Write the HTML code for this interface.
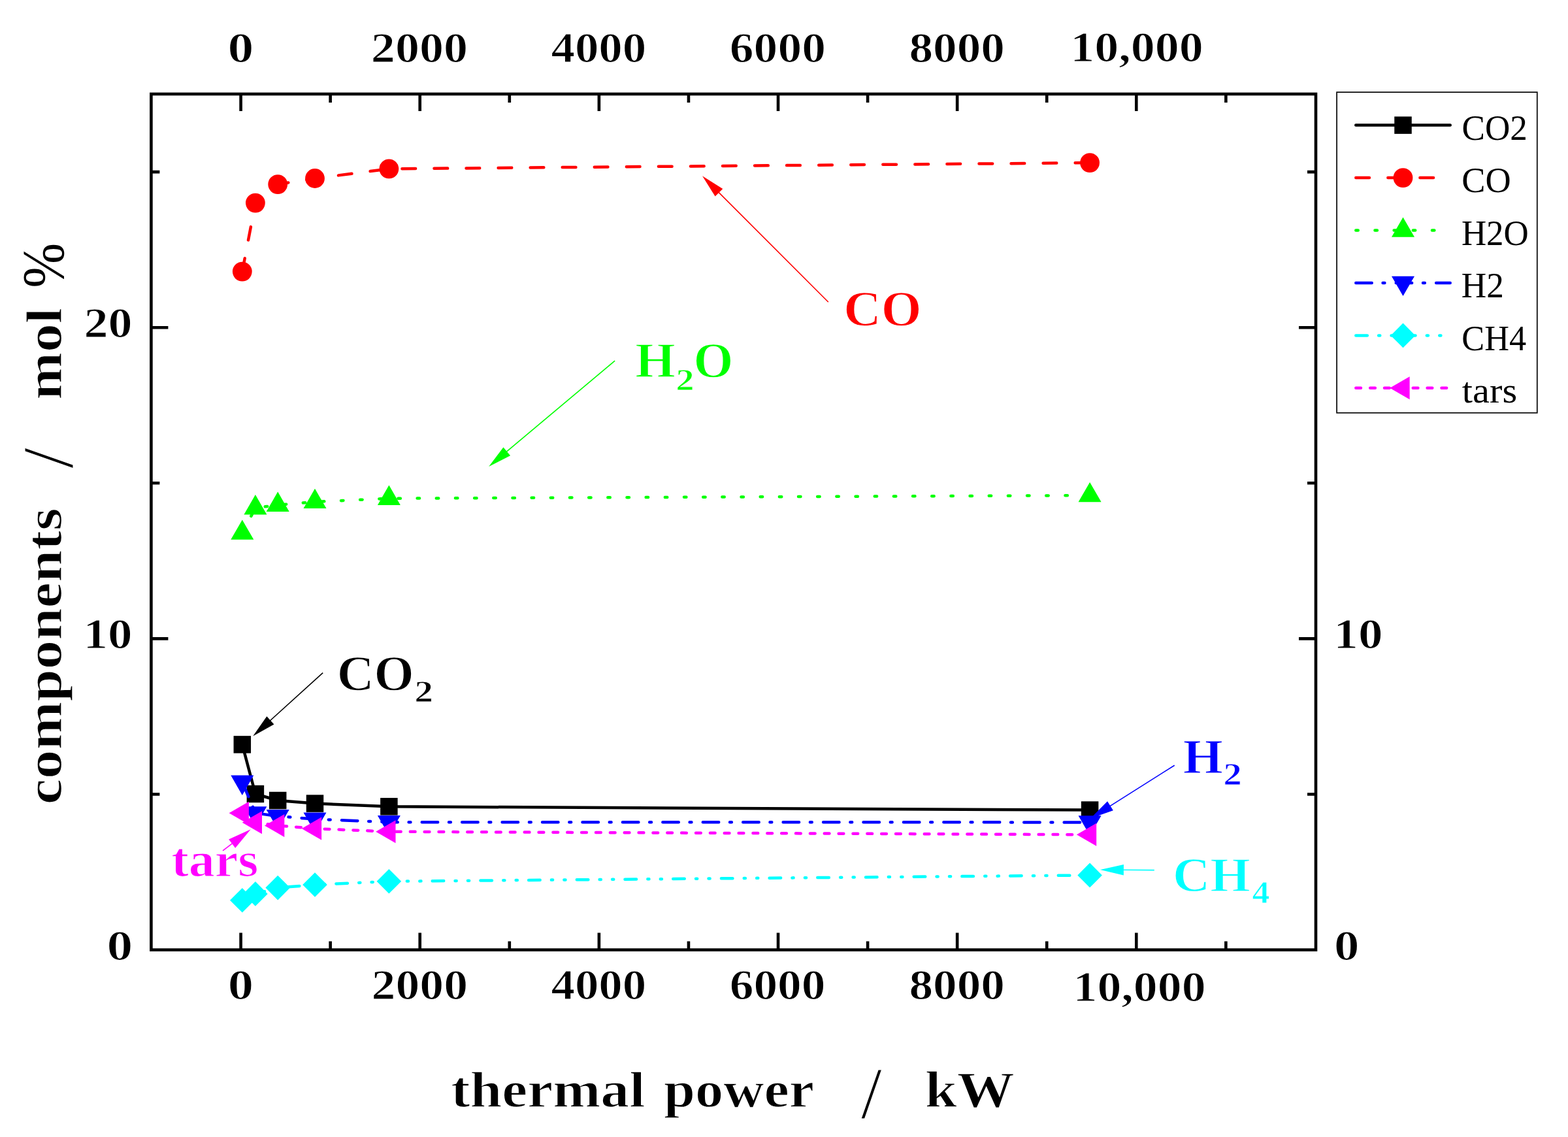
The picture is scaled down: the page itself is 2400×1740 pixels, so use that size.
<!DOCTYPE html>
<html><head><meta charset="utf-8"><title>components vs thermal power</title>
<style>html,body{margin:0;padding:0;background:#fff;}svg{display:block;}</style></head>
<body><svg width="2400" height="1740" viewBox="0 0 2400 1740">
<rect x="0" y="0" width="2400" height="1740" fill="#fff"/>
<g stroke="#000" stroke-width="4.6" fill="none">
<rect x="231.4" y="143.9" width="1782.6" height="1309.7" stroke-linejoin="miter"/>
<path d="M368.60 1453.60V1427.60M368.60 143.90V169.90M505.67 1453.60V1440.60M505.67 143.90V156.90M642.74 1453.60V1427.60M642.74 143.90V169.90M779.81 1453.60V1440.60M779.81 143.90V156.90M916.88 1453.60V1427.60M916.88 143.90V169.90M1053.95 1453.60V1440.60M1053.95 143.90V156.90M1191.02 1453.60V1427.60M1191.02 143.90V169.90M1328.09 1453.60V1440.60M1328.09 143.90V156.90M1465.16 1453.60V1427.60M1465.16 143.90V169.90M1602.23 1453.60V1440.60M1602.23 143.90V156.90M1739.30 1453.60V1427.60M1739.30 143.90V169.90M1876.37 1453.60V1440.60M1876.37 143.90V156.90M231.40 1215.50H244.40M2014.00 1215.50H2001.00M231.40 977.40H257.40M2014.00 977.40H1988.00M231.40 739.30H244.40M2014.00 739.30H2001.00M231.40 501.20H257.40M2014.00 501.20H1988.00M231.40 263.10H244.40M2014.00 263.10H2001.00"/>
</g>
<g font-family="Liberation Serif, serif">
<text transform="translate(348.50,95.21) scale(1.2086,1)" font-size="65.95" font-weight="bold" fill="#000" stroke="#fff" stroke-width="1.10">0</text>
<text transform="translate(567.87,95.21) scale(1.1241,1)" font-size="65.95" font-weight="bold" fill="#000" stroke="#fff" stroke-width="1.10">2000</text>
<text transform="translate(843.39,95.21) scale(1.1068,1)" font-size="65.95" font-weight="bold" fill="#000" stroke="#fff" stroke-width="1.10">4000</text>
<text transform="translate(1116.87,95.21) scale(1.1147,1)" font-size="65.95" font-weight="bold" fill="#000" stroke="#fff" stroke-width="1.10">6000</text>
<text transform="translate(1391.45,95.21) scale(1.1110,1)" font-size="65.95" font-weight="bold" fill="#000" stroke="#fff" stroke-width="1.10">8000</text>
<text transform="translate(1638.15,93.69) scale(1.1280,1)" font-size="65.63" font-weight="bold" fill="#000" stroke="#fff" stroke-width="1.10">10,000</text>
<text transform="translate(348.84,1528.81) scale(1.2021,1)" font-size="65.49" font-weight="bold" fill="#000" stroke="#fff" stroke-width="1.09">0</text>
<text transform="translate(568.59,1528.81) scale(1.1263,1)" font-size="65.49" font-weight="bold" fill="#000" stroke="#fff" stroke-width="1.09">2000</text>
<text transform="translate(843.39,1528.81) scale(1.1145,1)" font-size="65.49" font-weight="bold" fill="#000" stroke="#fff" stroke-width="1.09">4000</text>
<text transform="translate(1116.67,1528.81) scale(1.1217,1)" font-size="65.49" font-weight="bold" fill="#000" stroke="#fff" stroke-width="1.09">6000</text>
<text transform="translate(1391.45,1528.81) scale(1.1187,1)" font-size="65.49" font-weight="bold" fill="#000" stroke="#fff" stroke-width="1.09">8000</text>
<text transform="translate(1642.47,1531.59) scale(1.1257,1)" font-size="65.63" font-weight="bold" fill="#000" stroke="#fff" stroke-width="1.10">10,000</text>
<text transform="translate(163.61,1469.01) scale(1.2105,1)" font-size="65.64" font-weight="bold" fill="#000" stroke="#fff" stroke-width="1.10">0</text>
<text transform="translate(127.56,991.81) scale(1.1415,1)" font-size="65.80" font-weight="bold" fill="#000" stroke="#fff" stroke-width="1.10">10</text>
<text transform="translate(128.57,515.51) scale(1.1359,1)" font-size="65.19" font-weight="bold" fill="#000" stroke="#fff" stroke-width="1.09">20</text>
<text transform="translate(2042.12,1468.51) scale(1.1841,1)" font-size="65.04" font-weight="bold" fill="#000" stroke="#fff" stroke-width="1.09">0</text>
<text transform="translate(2041.35,991.81) scale(1.1433,1)" font-size="65.80" font-weight="bold" fill="#000" stroke="#fff" stroke-width="1.10">10</text>
<text transform="translate(690.25,1694.30) scale(1.1270,1)" font-size="77.89" font-weight="bold" fill="#000" stroke="#fff" stroke-width="1.30">thermal</text>
<text transform="translate(1015.98,1694.30) scale(1.1086,1)" font-size="77.89" font-weight="bold" fill="#000" stroke="#fff" stroke-width="1.30">power</text>
<text transform="translate(1318.00,1711.21) scale(1.0199,1)" font-size="111.52" font-weight="normal" fill="#000" stroke="#fff" stroke-width="1.0">/</text>
<text transform="translate(1415.77,1694.30) scale(1.1305,1)" font-size="77.89" font-weight="bold" fill="#000" stroke="#fff" stroke-width="1.30">kW</text>
<g transform="rotate(-90)">
<text transform="translate(-1231.28,94.15) scale(1.1399,1)" font-size="77.89" font-weight="bold" fill="#000" stroke="#fff" stroke-width="1.30">components</text>
<text transform="translate(-716.80,110.62) scale(1.0263,1)" font-size="110.47" font-weight="normal" fill="#000" stroke="#fff" stroke-width="1.0">/</text>
<text transform="translate(-611.78,94.15) scale(1.1169,1)" font-size="78.26" font-weight="bold" fill="#000" stroke="#fff" stroke-width="1.31">mol</text>
<text transform="translate(-440.42,96.80) scale(0.9071,1)" font-size="90.83" font-weight="normal" fill="#000">%</text>
</g>
</g>
<path d="M370.80,1139.40 L390.90,1215.00 L425.20,1225.00 L482.00,1229.60 L595.40,1234.30 L1668.10,1239.60" fill="none" stroke="#000" stroke-width="4.5" stroke-linecap="round" stroke-linejoin="round"/>
<rect x="357.55" y="1126.15" width="26.50" height="26.50" fill="#000"/>
<rect x="377.65" y="1201.75" width="26.50" height="26.50" fill="#000"/>
<rect x="411.95" y="1211.75" width="26.50" height="26.50" fill="#000"/>
<rect x="468.75" y="1216.35" width="26.50" height="26.50" fill="#000"/>
<rect x="582.15" y="1221.05" width="26.50" height="26.50" fill="#000"/>
<rect x="1654.85" y="1226.35" width="26.50" height="26.50" fill="#000"/>
<path d="M370.80,415.60 L390.90,310.60 L425.20,282.10 L482.00,273.00 L595.40,258.40 L1668.10,249.10" fill="none" stroke="#ff0000" stroke-width="4.5" stroke-linecap="round" stroke-linejoin="round" stroke-dasharray="20.64 28.42"/>
<circle cx="370.80" cy="415.60" r="14.9" fill="#ff0000"/>
<circle cx="390.90" cy="310.60" r="14.9" fill="#ff0000"/>
<circle cx="425.20" cy="282.10" r="14.9" fill="#ff0000"/>
<circle cx="482.00" cy="273.00" r="14.9" fill="#ff0000"/>
<circle cx="595.40" cy="258.40" r="14.9" fill="#ff0000"/>
<circle cx="1668.10" cy="249.10" r="14.9" fill="#ff0000"/>
<path d="M370.80,815.70 L390.90,777.30 L425.20,772.80 L482.00,768.00 L595.40,762.80 L1668.10,758.10" fill="none" stroke="#00ff00" stroke-width="4.5" stroke-linecap="round" stroke-linejoin="round" stroke-dasharray="3.41 25.76"/>
<polygon points="370.80,795.50 388.30,825.80 353.30,825.80" fill="#00ff00"/>
<polygon points="390.90,757.10 408.40,787.40 373.40,787.40" fill="#00ff00"/>
<polygon points="425.20,752.60 442.70,782.90 407.70,782.90" fill="#00ff00"/>
<polygon points="482.00,747.80 499.50,778.10 464.50,778.10" fill="#00ff00"/>
<polygon points="595.40,742.60 612.90,772.90 577.90,772.90" fill="#00ff00"/>
<polygon points="1668.10,737.90 1685.60,768.20 1650.60,768.20" fill="#00ff00"/>
<path d="M370.80,1196.70 L390.90,1244.30 L425.20,1249.00 L482.00,1253.60 L595.40,1258.20 L1668.10,1258.40" fill="none" stroke="#0000ff" stroke-width="4.5" stroke-linecap="round" stroke-linejoin="round" stroke-dasharray="24.41 16.85 2.82 17.35"/>
<polygon points="370.80,1216.90 388.30,1186.60 353.30,1186.60" fill="#0000ff"/>
<polygon points="390.90,1264.50 408.40,1234.20 373.40,1234.20" fill="#0000ff"/>
<polygon points="425.20,1269.20 442.70,1238.90 407.70,1238.90" fill="#0000ff"/>
<polygon points="482.00,1273.80 499.50,1243.50 464.50,1243.50" fill="#0000ff"/>
<polygon points="595.40,1278.40 612.90,1248.10 577.90,1248.10" fill="#0000ff"/>
<polygon points="1668.10,1278.60 1685.60,1248.30 1650.60,1248.30" fill="#0000ff"/>
<path d="M370.80,1377.80 L390.90,1367.90 L425.20,1358.60 L482.00,1354.00 L595.40,1348.80 L1668.10,1339.40" fill="none" stroke="#00ffff" stroke-width="4.5" stroke-linecap="round" stroke-linejoin="round" stroke-dasharray="17.51 17.31 2.13 17.31 2.13 17.31"/>
<polygon points="370.80,1359.00 389.60,1377.80 370.80,1396.60 352.00,1377.80" fill="#00ffff"/>
<polygon points="390.90,1349.10 409.70,1367.90 390.90,1386.70 372.10,1367.90" fill="#00ffff"/>
<polygon points="425.20,1339.80 444.00,1358.60 425.20,1377.40 406.40,1358.60" fill="#00ffff"/>
<polygon points="482.00,1335.20 500.80,1354.00 482.00,1372.80 463.20,1354.00" fill="#00ffff"/>
<polygon points="595.40,1330.00 614.20,1348.80 595.40,1367.60 576.60,1348.80" fill="#00ffff"/>
<polygon points="1668.10,1320.60 1686.90,1339.40 1668.10,1358.20 1649.30,1339.40" fill="#00ffff"/>
<path d="M370.80,1244.30 L390.90,1258.80 L425.20,1263.40 L482.00,1268.10 L595.40,1272.70 L1668.10,1277.30" fill="none" stroke="#ff00ff" stroke-width="4.5" stroke-linecap="round" stroke-linejoin="round" stroke-dasharray="7.69 14.17"/>
<polygon points="350.60,1244.30 380.90,1226.80 380.90,1261.80" fill="#ff00ff"/>
<polygon points="370.70,1258.80 401.00,1241.30 401.00,1276.30" fill="#ff00ff"/>
<polygon points="405.00,1263.40 435.30,1245.90 435.30,1280.90" fill="#ff00ff"/>
<polygon points="461.80,1268.10 492.10,1250.60 492.10,1285.60" fill="#ff00ff"/>
<polygon points="575.20,1272.70 605.50,1255.20 605.50,1290.20" fill="#ff00ff"/>
<polygon points="1647.90,1277.30 1678.20,1259.80 1678.20,1294.80" fill="#ff00ff"/>
<line x1="1267.80" y1="462.20" x2="1099.04" y2="293.35" stroke="#ff0000" stroke-width="1.6"/>
<polygon points="1075.00,269.30 1106.28,288.93 1094.61,300.59" fill="#ff0000"/>
<line x1="941.10" y1="552.10" x2="774.24" y2="692.14" stroke="#00ff00" stroke-width="1.6"/>
<polygon points="748.20,714.00 770.47,684.54 781.08,697.18" fill="#00ff00"/>
<line x1="494.20" y1="1029.60" x2="412.39" y2="1103.76" stroke="#000" stroke-width="1.6"/>
<polygon points="387.20,1126.60 408.33,1096.31 419.41,1108.53" fill="#000"/>
<line x1="1797.70" y1="1171.20" x2="1697.75" y2="1234.34" stroke="#0000ff" stroke-width="1.6"/>
<polygon points="1669.00,1252.50 1695.03,1226.30 1703.84,1240.25" fill="#0000ff"/>
<line x1="1766.80" y1="1331.60" x2="1717.90" y2="1331.25" stroke="#00ffff" stroke-width="1.6"/>
<polygon points="1683.90,1331.00 1719.96,1323.01 1719.84,1339.51" fill="#00ffff"/>
<line x1="341.00" y1="1301.90" x2="356.71" y2="1289.87" stroke="#ff00ff" stroke-width="1.6"/>
<polygon points="383.70,1269.20 360.13,1297.64 350.10,1284.54" fill="#ff00ff"/>
<g font-family="Liberation Serif, serif">
<text transform="translate(1291.36,498.39) scale(1.0537,1)" font-size="75.40" font-weight="bold" fill="#ff0000" stroke="#fff" stroke-width="1.26">CO</text>
<text transform="translate(972.29,577.43) scale(1.0521,1)" font-size="75.23" font-weight="bold" fill="#00ff00" stroke="#fff" stroke-width="1.26">H</text>
<text transform="translate(1034.39,597.09) scale(1.1827,1)" font-size="47.26" font-weight="bold" fill="#00ff00" stroke="#fff" stroke-width="0.79">2</text>
<text transform="translate(1061.52,577.19) scale(1.0388,1)" font-size="75.40" font-weight="bold" fill="#00ff00" stroke="#fff" stroke-width="1.26">O</text>
<text transform="translate(515.80,1055.59) scale(1.0431,1)" font-size="75.40" font-weight="bold" fill="#000" stroke="#fff" stroke-width="1.26">CO</text>
<text transform="translate(634.55,1074.00) scale(1.1947,1)" font-size="47.41" font-weight="bold" fill="#000" stroke="#fff" stroke-width="0.79">2</text>
<text transform="translate(1810.80,1182.63) scale(1.0469,1)" font-size="75.07" font-weight="bold" fill="#0000ff" stroke="#fff" stroke-width="1.25">H</text>
<text transform="translate(1872.57,1201.40) scale(1.1651,1)" font-size="48.19" font-weight="bold" fill="#0000ff" stroke="#fff" stroke-width="0.81">2</text>
<text transform="translate(1794.97,1363.52) scale(1.0624,1)" font-size="74.54" font-weight="bold" fill="#00ffff" stroke="#fff" stroke-width="1.25">CH</text>
<text transform="translate(1916.41,1382.20) scale(1.1279,1)" font-size="47.70" font-weight="bold" fill="#00ffff" stroke="#fff" stroke-width="0.80">4</text>
<text transform="translate(262.14,1340.61) scale(1.0941,1)" font-size="73.16" font-weight="bold" fill="#ff00ff" stroke="#fff" stroke-width="1.22">tars</text>
</g>
<rect x="2046.1" y="141.1" width="306.7" height="490.7" fill="#fff" stroke="#111" stroke-width="1.8"/>
<g font-family="Liberation Serif, serif">
<line x1="2075.3" y1="191.6" x2="2219.7" y2="191.6" stroke="#000" stroke-width="4.5" stroke-linecap="round"/>
<rect x="2134.25" y="178.35" width="26.50" height="26.50" fill="#000"/>
<text transform="translate(2237.52,213.70) scale(0.9664,1)" font-size="55.00" font-weight="normal" fill="#000">CO2</text>
<line x1="2075.3" y1="272.1" x2="2219.7" y2="272.1" stroke="#ff0000" stroke-width="4.5" stroke-linecap="round" stroke-dasharray="20.64 28.42"/>
<circle cx="2147.50" cy="272.10" r="14.9" fill="#ff0000"/>
<text transform="translate(2237.27,294.20) scale(0.9876,1)" font-size="55.00" font-weight="normal" fill="#000">CO</text>
<line x1="2075.3" y1="352.6" x2="2219.7" y2="352.6" stroke="#00ff00" stroke-width="4.5" stroke-linecap="round" stroke-dasharray="3.41 25.76"/>
<polygon points="2147.50,332.40 2165.00,362.70 2130.00,362.70" fill="#00ff00"/>
<text transform="translate(2236.88,374.70) scale(0.9622,1)" font-size="55.00" font-weight="normal" fill="#000">H2O</text>
<line x1="2075.3" y1="432.9" x2="2219.7" y2="432.9" stroke="#0000ff" stroke-width="4.5" stroke-linecap="round" stroke-dasharray="24.41 16.85 2.82 17.35"/>
<polygon points="2147.50,453.10 2165.00,422.80 2130.00,422.80" fill="#0000ff"/>
<text transform="translate(2236.87,455.00) scale(0.9680,1)" font-size="55.00" font-weight="normal" fill="#000">H2</text>
<line x1="2075.3" y1="513.4" x2="2219.7" y2="513.4" stroke="#00ffff" stroke-width="4.5" stroke-linecap="round" stroke-dasharray="17.51 17.31 2.13 17.31 2.13 17.31"/>
<polygon points="2147.50,494.60 2166.30,513.40 2147.50,532.20 2128.70,513.40" fill="#00ffff"/>
<text transform="translate(2237.35,535.50) scale(0.9515,1)" font-size="55.00" font-weight="normal" fill="#000">CH4</text>
<line x1="2075.3" y1="593.8" x2="2219.7" y2="593.8" stroke="#ff00ff" stroke-width="4.5" stroke-linecap="round" stroke-dasharray="7.69 14.17"/>
<polygon points="2127.30,593.80 2157.60,576.30 2157.60,611.30" fill="#ff00ff"/>
<text transform="translate(2237.83,615.90) scale(1.0613,1)" font-size="55.00" font-weight="normal" fill="#000">tars</text>
</g>
</svg></body></html>
